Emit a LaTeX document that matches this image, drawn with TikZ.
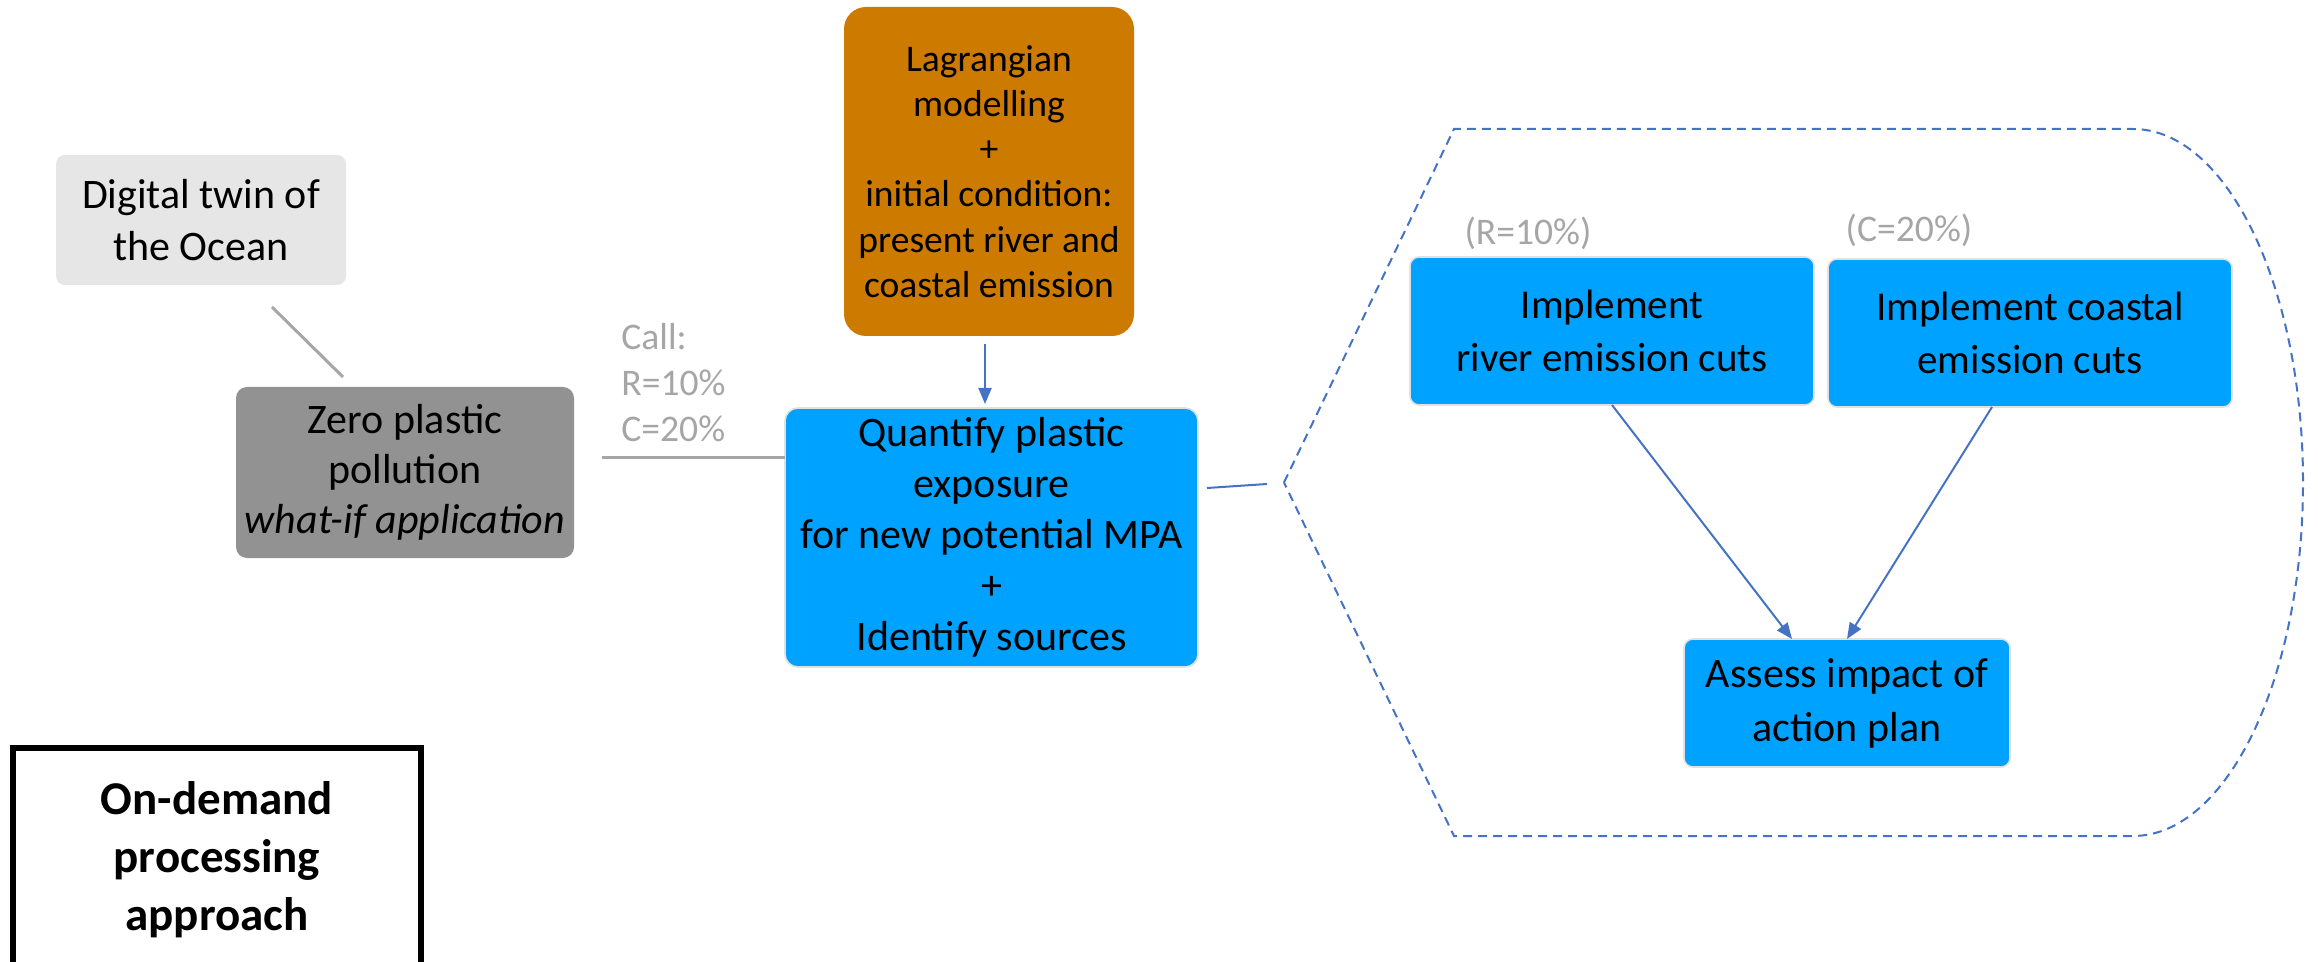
\documentclass[tikz,border=0pt]{standalone}
\usepackage{fontspec}
\setmainfont{Carlito}
\usetikzlibrary{arrows.meta,calc}
\definecolor{lgray}{HTML}{E7E6E6}
\definecolor{mgray}{HTML}{929292}
\definecolor{orng}{HTML}{CC7A00}
\definecolor{bfill}{HTML}{00A2FF}
\definecolor{lnk}{HTML}{4472C4}
\definecolor{gtxt}{HTML}{A6A6A6}
\begin{document}
\begin{tikzpicture}[x=0.5pt,y=-0.5pt,
  box/.style={rectangle, align=center, inner sep=0pt, outer sep=0pt},
  bluebox/.style={box, fill=bfill, draw=black!12, line width=0.8pt, rounded corners=4.5pt},
  glink/.style={draw=gtxt, line width=1.5pt},
  blink/.style={draw=lnk, line width=1pt, -{Triangle[length=8pt,width=6.5pt]}},
  ftxt/.style={font=\fontsize{21}{26}\selectfont},
  fsmall/.style={font=\fontsize{18.8}{22.6}\selectfont},
  lbl/.style={text=gtxt, inner sep=0pt, align=left, font=\fontsize{18.8}{23}\selectfont}
]
\useasboundingbox (0,0) rectangle (2318,962);

% left boxes
\node[box, fill=lgray, rounded corners=4.5pt, minimum width=145pt, minimum height=65pt, ftxt]
  (dig) at (201,220) {Digital twin of\\the Ocean};
\node[box, fill=mgray, rounded corners=5.5pt, minimum width=169pt, minimum height=85.5pt,
  font=\fontsize{21}{25}\selectfont]
  (zer) at (405,472.5) {Zero plastic\\pollution\\\textit{what-if application}};

% orange box
\node[box, fill=orng, rounded corners=11pt, minimum width=145pt, minimum height=164.5pt, fsmall]
  (org) at (989,171.5) {Lagrangian\\modelling\\+\\initial condition:\\present river and\\coastal emission};

% quantify box
\node[bluebox, rounded corners=6.5pt, minimum width=206.5pt, minimum height=129.5pt,
  font=\fontsize{21}{25.5}\selectfont]
  (qua) at (991.5,537.5) {Quantify plastic\\exposure\\for new potential MPA\\+\\Identify sources};

% call label
\node[lbl, anchor=west] (call) at (621,383) {Call:\\R=10\%\\C=20\%};

% right boxes
\node[bluebox, minimum width=202pt, minimum height=74pt, font=\fontsize{20.5}{26.5}\selectfont]
  (riv) at (1612,331) {Implement\\river emission cuts};
\node[bluebox, minimum width=202pt, minimum height=74pt, font=\fontsize{20.5}{26.5}\selectfont]
  (coa) at (2030,333) {Implement coastal\\emission cuts};
\node[bluebox, minimum width=163pt, minimum height=64pt, font=\fontsize{21}{27}\selectfont]
  (ass) at (1847,703) {Assess impact of\\action plan};
\node[lbl, align=center] (rl) at (1528,233) {(R=10\%)};
\node[lbl, align=center] (cl) at (1909,230) {(C=20\%)};

% dashed display shape
\draw[lnk, line width=1pt, dash pattern=on 4.5pt off 3pt]
  (1284,482.5) -- (1454,129) -- (2133,129)
  .. controls (2227,129) and (2303,287.3) .. (2303,482.5)
  .. controls (2303,677.7) and (2227,836) .. (2133,836)
  -- (1454,836) -- cycle;

% connectors
\coordinate (d1) at (272,307);
\coordinate (d2) at (343,377);
\draw[glink] (d1) -- (d2);
\coordinate (g1) at (602,458);
\draw[glink] (g1) -- (g1 -| qua.west);
\draw[blink] ([yshift=-4pt]org.south -| 985,0) -- ([yshift=2pt]qua.north -| 985,0);
\coordinate (q1) at (1207,488);
\coordinate (q2) at (1267,484);
\draw[lnk, line width=1pt] (q1) -- (q2);
\draw[blink] (riv.south) -- ([xshift=-27.5pt]ass.north);
\draw[blink] ([xshift=-19pt]coa.south) -- (ass.north);

% on-demand box
\draw[line width=3pt] (13,1010) -- (13,748) -- (421,748) -- (421,1010);
\node[box, font=\bfseries\fontsize{23.5}{29}\selectfont] (ond) at (217,860)
  {On-demand\\processing\\approach};
\end{tikzpicture}
\end{document}
